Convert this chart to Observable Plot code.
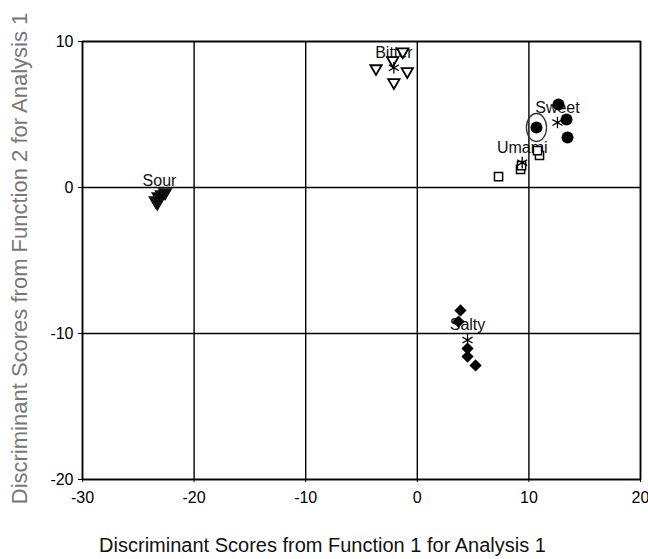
<!DOCTYPE html>
<html><head><meta charset="utf-8">
<script src="https://cdn.jsdelivr.net/npm/d3@7"></script>
<script src="https://cdn.jsdelivr.net/npm/@observablehq/plot@0.6"></script>
<style>body{margin:0;background:#fff;}</style>
</head><body><div id="chart"></div>
<script>
const xTicks = [-30, -20, -10, 0, 10, 20];
const yTicks = [-20, -10, 0, 10];

const bitterX = [-3.7, -2.2, -0.9, -2.1, -1.3];
const bitterY = [8.15, 8.7, 7.95, 7.2, 9.3];
const sourX = [-22.6, -22.9, -23.2, -23.45, -23.3];
const sourY = [-0.34, -0.48, -0.62, -0.89, -1.05];
const sweetX = [12.65, 13.37, 13.46, 10.68];
const sweetY = [5.68, 4.66, 3.42, 4.11];
const umamiX = [7.28, 9.25, 9.34, 10.95, 10.77];
const umamiY = [0.75, 1.23, 1.5, 2.19, 2.53];
const saltyX = [3.87, 3.69, 4.5, 4.5, 5.22];
const saltyY = [-8.42, -9.18, -11.03, -11.58, -12.19];

const groupNames = ["Bitter", "Sour", "Sweet", "Umami", "Salty"];
const centroidX = [-2.1, -23.1, 12.56, 9.4, 4.5];
const centroidY = [8.2, -0.6, 4.45, 1.7, -10.45];

const circledX = [10.68];
const circledY = [4.11];

const xTitle = "Discriminant Scores from Function 1 for Analysis 1";
const yTitle = "Discriminant Scores from Function 2 for Analysis 1";

const rows = (xs, ys) => xs.map((x, i) => ({x, y: ys[i]}));
const centroids = groupNames.map((g, i) => ({g, x: centroidX[i], y: centroidY[i]}));

const ellipseSymbol = {
  draw(ctx, size) {
    const r = Math.sqrt(size / Math.PI);
    const rx = r * 0.72, ry = r, k = 0.5523;
    ctx.moveTo(rx, 0);
    ctx.bezierCurveTo(rx, ry * k, rx * k, ry, 0, ry);
    ctx.bezierCurveTo(-rx * k, ry, -rx, ry * k, -rx, 0);
    ctx.bezierCurveTo(-rx, -ry * k, -rx * k, -ry, 0, -ry);
    ctx.bezierCurveTo(rx * k, -ry, rx, -ry * k, rx, 0);
    ctx.closePath();
  }
};

const font = "'Liberation Sans', Arial, sans-serif";
const fmt = d => String(d);

const chart = Plot.plot({
  width: 648,
  height: 559,
  marginLeft: 82,
  marginRight: 8,
  marginTop: 41,
  marginBottom: 80,
  style: {fontFamily: font, fontSize: "16px", color: "#000", background: "#fff"},
  x: {domain: [-30, 20], ticks: xTicks},
  y: {domain: [-20, 10], ticks: yTicks},
  marks: [
    Plot.gridX(xTicks, {stroke: "#000", strokeOpacity: 1, strokeWidth: 1.4}),
    Plot.gridY(yTicks, {stroke: "#000", strokeOpacity: 1, strokeWidth: 1.4}),
    Plot.frame({stroke: "#000", strokeWidth: 1.6}),
    Plot.axisX(xTicks, {tickSize: 3, tickPadding: 9, label: null, fontSize: 16, tickFormat: fmt}),
    Plot.axisY(yTicks, {tickSize: 4, tickPadding: 5, label: null, fontSize: 16, tickFormat: fmt}),
    Plot.text([xTitle], {frameAnchor: "bottom", text: d => d, dy: 72, dx: -39, fontSize: 20, fill: "#111"}),
    Plot.text([yTitle], {frameAnchor: "left", text: d => d, textAnchor: "middle", rotate: -90, dx: -63, dy: -2, fontSize: 22, fill: "#777"}),
    Plot.text(centroids, {x: "x", y: "y", text: "g", dy: -15, fontSize: 16, fill: "#111"}),
    Plot.dot(rows(bitterX, bitterY), {x: "x", y: "y", symbol: "triangle", rotate: 180, r: 4.2, fill: "#fff", stroke: "#000", strokeWidth: 1.8}),
    Plot.dot(rows(sourX, sourY), {x: "x", y: "y", symbol: "triangle", rotate: 180, r: 4.6, fill: "#111", stroke: "#111"}),
    Plot.dot(rows(sweetX, sweetY), {x: "x", y: "y", symbol: "circle", r: 6, fill: "#000", stroke: "none"}),
    Plot.dot(rows(circledX, circledY), {x: "x", y: "y", symbol: ellipseSymbol, r: 14, fill: "none", stroke: "#333", strokeWidth: 1.3}),
    Plot.dot(rows(umamiX, umamiY), {x: "x", y: "y", symbol: "square", r: 4.6, fill: "#fff", stroke: "#000", strokeWidth: 1.5}),
    Plot.dot(rows(saltyX, saltyY), {x: "x", y: "y", symbol: "diamond2", r: 5.5, fill: "#000", stroke: "none"}),
    Plot.dot(centroids, {x: "x", y: "y", symbol: "asterisk", r: 5.5, stroke: "#000", strokeWidth: 1.3})
  ]
});
document.getElementById("chart").appendChild(chart);
</script>
</body></html>
